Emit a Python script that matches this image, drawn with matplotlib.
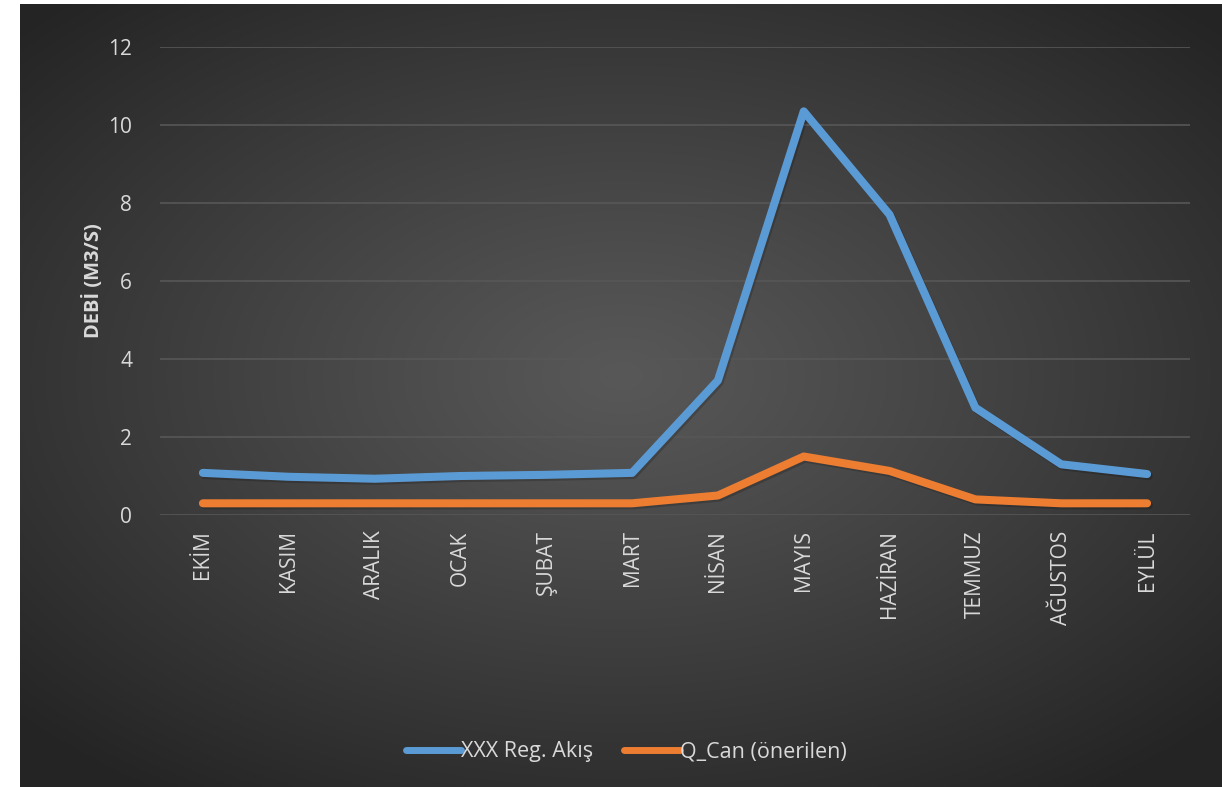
import matplotlib.pyplot as plt
import matplotlib.patheffects as pe
import numpy as np

plt.rcParams['font.family'] = ['Open Sans', 'DejaVu Sans']

months = ["EKİM", "KASIM", "ARALIK", "OCAK", "ŞUBAT", "MART",
          "NİSAN", "MAYIS", "HAZİRAN", "TEMMUZ", "AĞUSTOS", "EYLÜL"]
reg_akis = [1.08, 0.98, 0.93, 1.00, 1.03, 1.08, 3.45, 10.35, 7.70, 2.75, 1.30, 1.05]
q_can = [0.30, 0.30, 0.30, 0.30, 0.30, 0.30, 0.50, 1.50, 1.13, 0.40, 0.30, 0.30]
yticks = [0, 2, 4, 6, 8, 10, 12]

W, H = 1222, 787
fig = plt.figure(figsize=(W / 100, H / 100), dpi=100, facecolor='white')

# dark panel with a radial gradient
bg = fig.add_axes([20 / W, 0, 1 - 20 / W, 1 - 4 / H])
bg.set_axis_off()
gx, gy = np.meshgrid(np.linspace(-1, 1, 600), np.linspace(-1, 1, 400))
r = np.sqrt((gx - 0.0) ** 2 + (gy + 0.05) ** 2 * 1.1)
r = np.clip(r / 1.35, 0, 1)
shade = 0.345 - (0.345 - 0.145) * r ** 1.1
bg.imshow(np.dstack([shade] * 3), aspect='auto', extent=[0, 1, 0, 1],
          interpolation='bicubic')
bg.set_xlim(0, 1)
bg.set_ylim(0, 1)

ax = fig.add_axes([160 / W, 1 - 515 / H, 1030 / W, 468 / H])
ax.patch.set_alpha(0)
x = np.arange(len(months))

shadow = [pe.SimpleLineShadow(offset=(1.2, -1.5), shadow_color='black', alpha=0.18), pe.Normal()]
ax.plot(x, reg_akis, color='#5B9BD5', lw=5.8, solid_capstyle='round',
        solid_joinstyle='round', label='XXX Reg. Akış', path_effects=shadow, zorder=3)
ax.plot(x, q_can, color='#ED7D31', lw=5.8, solid_capstyle='round',
        solid_joinstyle='round', label='Q_Can (önerilen)', path_effects=shadow, zorder=3)

ax.set_xlim(-0.5, len(months) - 0.5)
ax.set_ylim(0, 12)
ax.set_yticks(yticks)
ax.set_xticks(x)
ax.set_xticklabels(months, rotation=90)
ax.tick_params(axis='both', length=0, colors='#d9d9d9', labelsize=15)
ax.tick_params(axis='x', pad=11)
ax.tick_params(axis='y', pad=20)
ax.grid(axis='y', color='#575757', lw=1.2)
ax.set_axisbelow(True)
for s in ax.spines.values():
    s.set_visible(False)

ax.set_ylabel('DEBİ (M3/S)', color='#d9d9d9', fontsize=14.5, fontweight='bold', labelpad=3)

leg = fig.legend(loc='center', bbox_to_anchor=(626 / W, 1 - 752 / H), ncol=2,
                 frameon=False, fontsize=15.5, labelcolor='#d9d9d9',
                 handlelength=2.6, handletextpad=0.0, columnspacing=1.4)
for h in leg.get_lines():
    h.set_path_effects([])
    h.set_linewidth(5)
    h.set_solid_capstyle('round')

fig.savefig('out.png', dpi=100, facecolor='white')
